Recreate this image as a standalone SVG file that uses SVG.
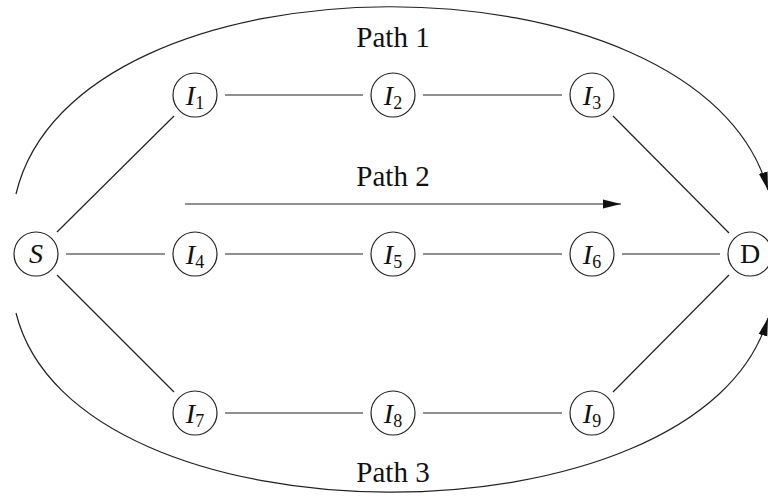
<svg xmlns="http://www.w3.org/2000/svg" width="768" height="500" viewBox="0 0 768 500">
<style>
.n circle{fill:#fff;stroke:#222;stroke-width:1.2}
.n text,.lbl{font-family:"Liberation Serif","DejaVu Serif",serif;fill:#111;text-anchor:middle}
.n text{font-size:28px}
.sub{font-size:18px;font-style:normal}
.lbl{font-size:29px}
.e{stroke:#222;stroke-width:1.2;fill:none}
</style>
<defs>
<marker id="ah" markerUnits="userSpaceOnUse" markerWidth="20" markerHeight="12" refX="18" refY="5" orient="auto">
<path d="M0,0.5 L18,5 L0,9.5 Z" fill="#111"/>
</marker>
</defs>
<rect width="768" height="500" fill="#fff"/>
<g id="connectors">
<line class="e" x1="66" y1="254" x2="165" y2="254"/>
<line class="e" x1="225" y1="254" x2="363" y2="254"/>
<line class="e" x1="423" y1="254" x2="562" y2="254"/>
<line class="e" x1="622" y1="254" x2="720" y2="254"/>
<line class="e" x1="225" y1="95" x2="363" y2="95"/>
<line class="e" x1="423" y1="95" x2="562" y2="95"/>
<line class="e" x1="225" y1="413" x2="363" y2="413"/>
<line class="e" x1="423" y1="413" x2="562" y2="413"/>
<line class="e" x1="57" y1="232" x2="174" y2="116"/>
<line class="e" x1="57" y1="275" x2="174" y2="392"/>
<line class="e" x1="613" y1="116" x2="729" y2="233"/>
<line class="e" x1="613" y1="392" x2="729" y2="275"/>
<path class="e" d="M16,194 C75,-55 700,-55 768,190" marker-end="url(#ah)"/>
<path class="e" d="M16,313 C75,551 700,551 768,318" marker-end="url(#ah)"/>
<line class="e" x1="185" y1="204" x2="621" y2="204" marker-end="url(#ah)"/>
</g>
<text class="lbl" x="393" y="47">Path 1</text>
<text class="lbl" x="393" y="186">Path 2</text>
<text class="lbl" x="393" y="482">Path 3</text>
<g id="S" class="n"><circle cx="36" cy="254" r="22"/><text x="36" y="263" font-style="italic">S</text></g>
<g id="D" class="n"><circle cx="750" cy="254" r="22"/><text x="750" y="263">D</text></g>
<g id="I1" class="n"><circle cx="195" cy="95" r="22"/><text x="195" y="105" font-style="italic">I<tspan class="sub" dy="4">1</tspan></text></g>
<g id="I2" class="n"><circle cx="393" cy="95" r="22"/><text x="393" y="105" font-style="italic">I<tspan class="sub" dy="4">2</tspan></text></g>
<g id="I3" class="n"><circle cx="592" cy="95" r="22"/><text x="592" y="105" font-style="italic">I<tspan class="sub" dy="4">3</tspan></text></g>
<g id="I4" class="n"><circle cx="195" cy="254" r="22"/><text x="195" y="264" font-style="italic">I<tspan class="sub" dy="4">4</tspan></text></g>
<g id="I5" class="n"><circle cx="393" cy="254" r="22"/><text x="393" y="264" font-style="italic">I<tspan class="sub" dy="4">5</tspan></text></g>
<g id="I6" class="n"><circle cx="592" cy="254" r="22"/><text x="592" y="264" font-style="italic">I<tspan class="sub" dy="4">6</tspan></text></g>
<g id="I7" class="n"><circle cx="195" cy="413" r="22"/><text x="195" y="423" font-style="italic">I<tspan class="sub" dy="4">7</tspan></text></g>
<g id="I8" class="n"><circle cx="393" cy="413" r="22"/><text x="393" y="423" font-style="italic">I<tspan class="sub" dy="4">8</tspan></text></g>
<g id="I9" class="n"><circle cx="592" cy="413" r="22"/><text x="592" y="423" font-style="italic">I<tspan class="sub" dy="4">9</tspan></text></g>
</svg>
